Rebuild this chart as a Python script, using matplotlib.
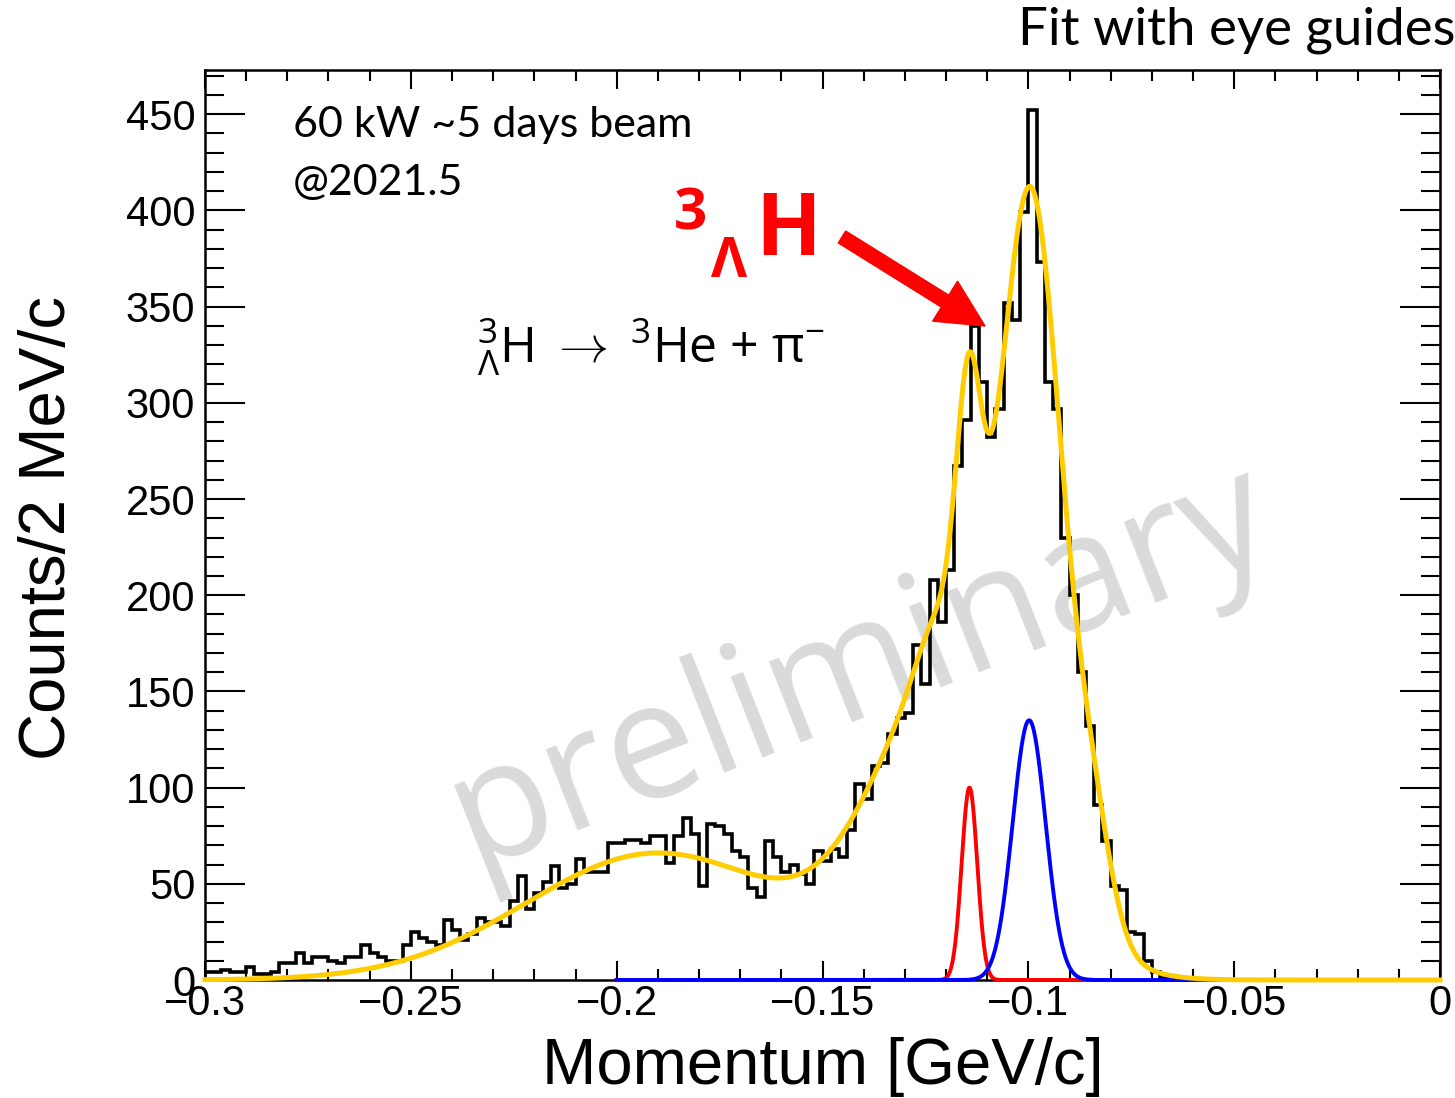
import matplotlib
matplotlib.use('Agg')
import matplotlib.pyplot as plt
from matplotlib.patches import FancyArrow
from matplotlib.transforms import IdentityTransform
from matplotlib.ticker import MultipleLocator
import numpy as np

# histogram: 150 bins of 2 MeV/c from -0.3 to 0 GeV/c
counts = [4, 4, 5, 4, 4, 7, 3, 3, 4, 9,
          9, 14, 9, 12, 12, 10, 9, 12, 12, 18,
          14, 12, 10, 10, 18, 25, 22, 20, 18, 31,
          26, 21, 24, 32, 30, 30, 28, 41, 54, 37,
          45, 51, 59, 48, 50, 63, 56, 56, 56, 71,
          71, 73, 73, 71, 75, 75, 61, 75, 84, 76,
          49, 81, 80, 76, 67, 64, 48, 43, 72, 64,
          56, 60, 55, 50, 67, 62, 68, 64, 78, 102,
          94, 111, 113, 128, 136, 139, 174, 154, 208, 186,
          213, 267, 291, 340, 311, 282, 297, 352, 343, 399,
          452, 373, 311, 297, 230, 200, 160, 132, 91, 72,
          49, 47, 25, 24, 10, 4, 1, 1, 0, 0,
          0, 0, 0, 0, 0, 0, 0, 0, 0, 0,
          0, 0, 0, 0, 0, 0, 0, 0, 0, 0,
          0, 0, 0, 0, 0, 0, 0, 0, 0, 0]
x_min, x_max = -0.3, 0.0

# eye-guide fit: sum of gaussians (amplitude, mean, sigma)
fit_amp = [66, 160, 25, 127, 318, 50]
fit_mean = [-0.19, -0.118, -0.122, -0.1145, -0.0988, -0.0845]
fit_sigma = [0.032, 0.018, 0.005, 0.003, 0.0072, 0.0048]
red_peak = [100, -0.1143, 0.0019]
blue_peak = [135, -0.0998, 0.0040]

x_ticks = [-0.3, -0.25, -0.2, -0.15, -0.1, -0.05, 0.0]
x_labels = ['\u22120.3', '\u22120.25', '\u22120.2', '\u22120.15', '\u22120.1', '\u22120.05', '0']
y_ticks = [0, 50, 100, 150, 200, 250, 300, 350, 400, 450]


def gauss(x, a, m, s):
    return a * np.exp(-0.5 * ((x - m) / s) ** 2)


plt.rcParams['font.family'] = ['Liberation Sans', 'DejaVu Sans']
plt.rcParams['mathtext.fontset'] = 'custom'
plt.rcParams['mathtext.rm'] = 'Open Sans'
plt.rcParams['mathtext.it'] = 'Open Sans:italic'
plt.rcParams['mathtext.bf'] = 'Open Sans:bold'

W, H = 1455, 1098
def px(x, y):
    return x / W, 1 - y / H

fig = plt.figure(figsize=(W / 100, H / 100), dpi=100)
ax = fig.add_axes([205 / W, 1 - 980 / H, 1235 / W, 910 / H])

edges = np.linspace(x_min, x_max, len(counts) + 1)
ax.stairs(counts, edges, color='black', lw=2.6, zorder=3)

xs = np.linspace(x_min, x_max, 3000)
yellow = sum(gauss(xs, a, m, s) for a, m, s in zip(fit_amp, fit_mean, fit_sigma))
xr = np.linspace(-0.2, -0.086, 1500)
xb = np.linspace(-0.2, 0.0, 2500)
ax.plot(xr, gauss(xr, *red_peak), color='#ff0000', lw=2.8, zorder=4, clip_on=False)
ax.plot(xb, gauss(xb, *blue_peak), color='#0000ff', lw=2.8, zorder=4.1, clip_on=False)
ax.plot(xs, yellow, color='#ffcc00', lw=3.6, zorder=5, clip_on=False)

ax.set_xlim(x_min, x_max)
ax.set_ylim(0, 473)
ax.set_xticks(x_ticks, x_labels)
ax.set_yticks(y_ticks, [str(v) for v in y_ticks])
ax.xaxis.set_minor_locator(MultipleLocator(0.01))
ax.yaxis.set_minor_locator(MultipleLocator(10))
ax.tick_params(which='both', direction='in', top=True, right=True, width=1.5)
ax.tick_params(axis='y', which='major', length=29, pad=7, labelsize=30)
ax.tick_params(axis='y', which='minor', length=14)
ax.tick_params(axis='x', which='major', length=14, pad=3, labelsize=30)
ax.tick_params(axis='x', which='minor', length=8)
for sp in ax.spines.values():
    sp.set_linewidth(1.8)

ax.set_xlabel('Momentum [GeV/c]', fontsize=47)
ax.xaxis.set_label_coords(0.5, -0.063)
ax.set_ylabel('Counts/2 MeV/c', fontsize=47)
ax.yaxis.set_label_coords(-0.103, 0.497)

# watermark behind the histogram
ax.text(*px(860, 668), 'preliminary', transform=fig.transFigure, rotation=21.5,
        rotation_mode='anchor', ha='center', va='center', fontsize=117,
        color='#dadada', family='Open Sans', zorder=1, clip_on=False)

fig.text(*px(1018, 45), 'Fit with eye guides', fontsize=38, family='Lato', va='baseline')
fig.text(*px(293, 137), '60 kW ~5 days beam', fontsize=31, family='Lato', va='baseline')
fig.text(*px(293, 195), '@2021.5', fontsize=31, family='Lato', va='baseline')

red = '#ff0000'
fig.text(*px(674, 230), '3', fontsize=42, color=red, weight='bold', family='Open Sans', va='baseline')
fig.text(*px(711, 277), '\u039b', fontsize=40, color=red, weight='bold', family='Open Sans', va='baseline')
fig.text(*px(755, 255), 'H', fontsize=62, color=red, weight='bold', family='Open Sans', va='baseline')

fig.text(*px(477, 362), r'${}^{3}_{\Lambda}$H $\rightarrow$ $^{3}$He + \u03c0$^{-}$'.replace('\\u03c0', '\u03c0'),
         fontsize=36, family='Open Sans', va='baseline')

arrow = FancyArrow(842, H - 237, 985 - 842, -(326 - 237), width=14, head_width=47,
                   head_length=47, length_includes_head=True, color=red,
                   transform=IdentityTransform())
fig.add_artist(arrow)

fig.savefig('out.png', dpi=100)
